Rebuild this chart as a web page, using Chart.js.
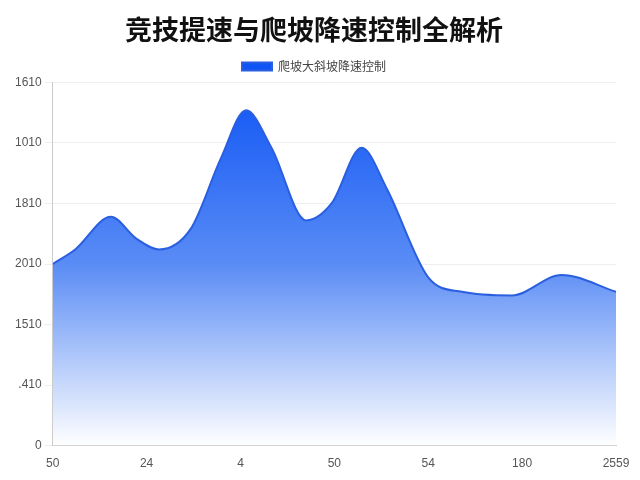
<!DOCTYPE html><html><head><meta charset="utf-8"><script src="https://cdn.jsdelivr.net/npm/chart.js@4"></script>
<style>body{margin:0;background:#fff}#w{width:640px;height:480px}</style></head><body><div id="w"><canvas id="c"></canvas></div>
<script>
const xTickLabels=["50","24","4","50","54","180","2559"];
const yTickLabels=["0",".410","1510","2010","1810","1010","1610"];
const xs=[0,0.24,0.62,0.89,1.13,1.47,1.79,2.06,2.33,2.70,2.97,3.29,3.56,4.0,4.36,4.89,5.42,6.0];
const vals=[150,162,189,171,162,179,237,277,246,186,200,246,212,139,127,124,141,127];
const seriesName="爬坡大斜坡降速控制";
const ctx=document.getElementById('c');
new Chart(ctx,{type:'line',data:{datasets:[{label:seriesName,data:xs.map((x,i)=>({x,y:vals[i]})),borderColor:'#2a5fe0',borderWidth:2,pointRadius:0,tension:0.4,cubicInterpolationMode:'monotone',fill:'origin',
backgroundColor:(c)=>{const a=c.chart.chartArea;if(!a)return '#6690f0';const g=c.chart.ctx.createLinearGradient(0,a.top,0,a.bottom);g.addColorStop(0,'#0f55f5');g.addColorStop(0.5,'#5a8cf5');g.addColorStop(1,'#ffffff');return g;}}]},
options:{responsive:true,maintainAspectRatio:false,animation:false,layout:{padding:{left:12,right:24,bottom:6}},
plugins:{title:{display:true,text:'竞技提速与爬坡降速控制全解析',font:{size:27,weight:'bold',family:'Noto Sans CJK SC'},color:'#111',padding:{top:14,bottom:4}},
legend:{labels:{boxWidth:30,boxHeight:8,color:'#444',font:{size:12,family:'Noto Sans CJK SC'}}}},
scales:{x:{type:'linear',min:0,max:6,ticks:{stepSize:1,color:'#555',font:{size:12},callback:v=>xTickLabels[v]},grid:{display:false},border:{color:'#ccc'}},
y:{min:0,max:300,ticks:{stepSize:50,color:'#555',font:{size:12},callback:v=>yTickLabels[v/50]},grid:{color:'#eee'},border:{color:'#ccc'}}}}});
</script></body></html>
